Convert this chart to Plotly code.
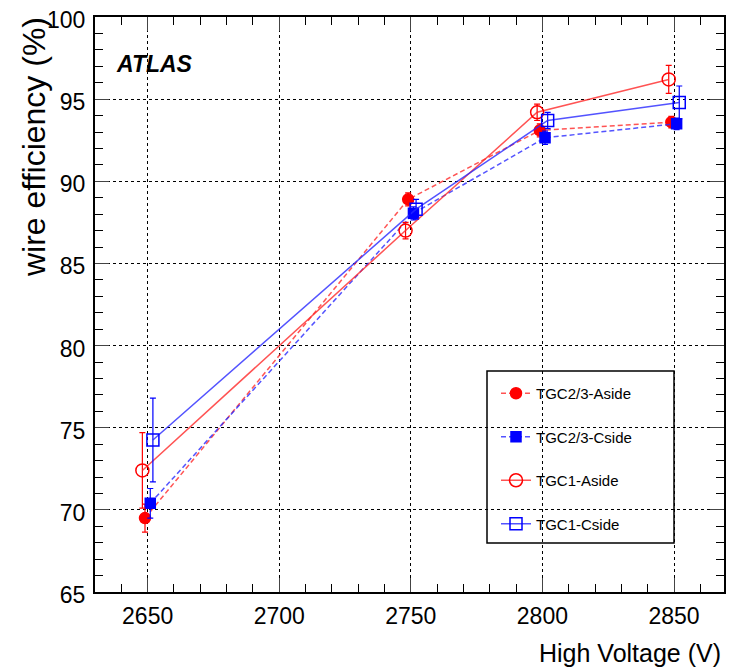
import plotly.graph_objects as go

# ---- data ----
names = ["TGC2/3-Aside", "TGC2/3-Cside", "TGC1-Aside", "TGC1-Cside"]
hv_a23 = [2649, 2749, 2799, 2849]
eff_a23 = [69.5, 88.9, 93.1, 93.6]
err_a23 = [0.85, 0.4, 0.4, 0.35]

hv_c23 = [2651, 2751, 2801, 2851]
eff_c23 = [70.4, 88.05, 92.65, 93.5]
err_c23 = [0.9, 0.4, 0.4, 0.35]

hv_a1 = [2648, 2748, 2798, 2848]
eff_a1 = [72.4, 87.0, 94.2, 96.2]
err_a1 = [2.3, 0.5, 0.5, 0.85]

hv_c1 = [2652, 2752, 2802, 2852]
eff_c1 = [74.25, 88.3, 93.7, 94.8]
err_c1 = [2.55, 0.6, 0.5, 1.0]

x_ticks = [2650, 2700, 2750, 2800, 2850]
y_ticks = [65, 70, 75, 80, 85, 90, 95, 100]

FONT = "Liberation Sans, Arial, Helvetica, sans-serif"

series = [
    (names[0], hv_a23, eff_a23, err_a23, "red", "circle", 11, "5px,3px"),
    (names[1], hv_c23, eff_c23, err_c23, "blue", "square", 10, "5px,3px"),
    (names[2], hv_a1, eff_a1, err_a1, "red", "circle-open", 13, "solid"),
    (names[3], hv_c1, eff_c1, err_c1, "blue", "square-open", 12, "solid"),
]

fig = go.Figure()
for i, (nm, xs, ys, es, col, sym, sz, dash) in enumerate(series):
    lc = "rgba(255,40,40,0.8)" if col == "red" else "rgba(40,40,255,0.8)"
    fig.add_trace(go.Scatter(
        x=xs, y=ys, name=nm, mode="lines+markers",
        legendgroup="g%d" % i,
        line=dict(color=lc, width=1.5, dash=dash),
        marker=dict(color=col, symbol=sym, size=sz, line=dict(color=col, width=1.5)),
        error_y=dict(type="data", array=es, visible=True, color=col, thickness=1.2, width=3),
    ))

axis_common = dict(
    showline=True, linecolor="black", linewidth=2, mirror="allticks",
    ticks="inside", ticklen=14, tickcolor="#444", tickwidth=1,
    showgrid=True, gridcolor="black", gridwidth=1, griddash="dot",
    zeroline=False, automargin=False, ticklabeloverflow="allow",
    tickfont=dict(family=FONT, size=23, color="black"),
)

fig.update_xaxes(
    range=[2630, 2869], tickvals=x_ticks, ticktext=[str(v) for v in x_ticks],
    minor=dict(ticks="inside", ticklen=8, dtick=10, tick0=2600, tickcolor="black", showgrid=False),
    ticklabelstandoff=2,
    **axis_common,
)
fig.update_yaxes(
    range=[65, 100], tickvals=y_ticks, ticktext=[str(v) for v in y_ticks],
    minor=dict(ticks="inside", ticklen=8, dtick=1, tick0=65, tickcolor="black", showgrid=False),
    ticklabelstandoff=3, ticklabelshift=3,
    **axis_common,
)

# plot area in screenshot pixels: x 95..724, y 17..592  (page has an 8px body margin)
def xp(px):
    return (px - 95) / 629.0

def yp(py):
    return (592 - py) / 575.0

# legend frame
fig.add_shape(type="rect", xref="paper", yref="paper",
              x0=xp(487), x1=xp(674), y0=yp(543), y1=yp(371),
              line=dict(color="black", width=1.5), fillcolor="white", layer="below")

fig.update_layout(
    width=727, height=663,
    margin=dict(l=87, r=11, t=9, b=79, autoexpand=False),
    paper_bgcolor="white", plot_bgcolor="rgba(0,0,0,0)",
    font=dict(family=FONT, color="black"),
    showlegend=True,
    legend=dict(
        x=xp(496), y=yp(377), xanchor="left", yanchor="top",
        bgcolor="rgba(0,0,0,0)", borderwidth=0,
        font=dict(family=FONT, size=15, color="black"),
        tracegroupgap=21, traceorder="grouped",
    ),
    annotations=[
        dict(text="<b><i>ATLAS</i></b>", xref="paper", yref="paper",
             x=xp(114), y=yp(64), xanchor="left", yanchor="middle",
             showarrow=False, font=dict(family=FONT, size=23, color="black")),
        dict(text="High Voltage (V)", xref="paper", yref="paper",
             x=xp(723), y=yp(653), xanchor="right", yanchor="middle",
             showarrow=False, font=dict(family=FONT, size=25, color="black")),
        dict(text="wire efficiency (%)", xref="paper", yref="paper", textangle=-90,
             x=xp(34), y=yp(15), xanchor="center", yanchor="top",
             showarrow=False, font=dict(family=FONT, size=32, color="black")),
    ],
)

fig.write_html("out.html")
